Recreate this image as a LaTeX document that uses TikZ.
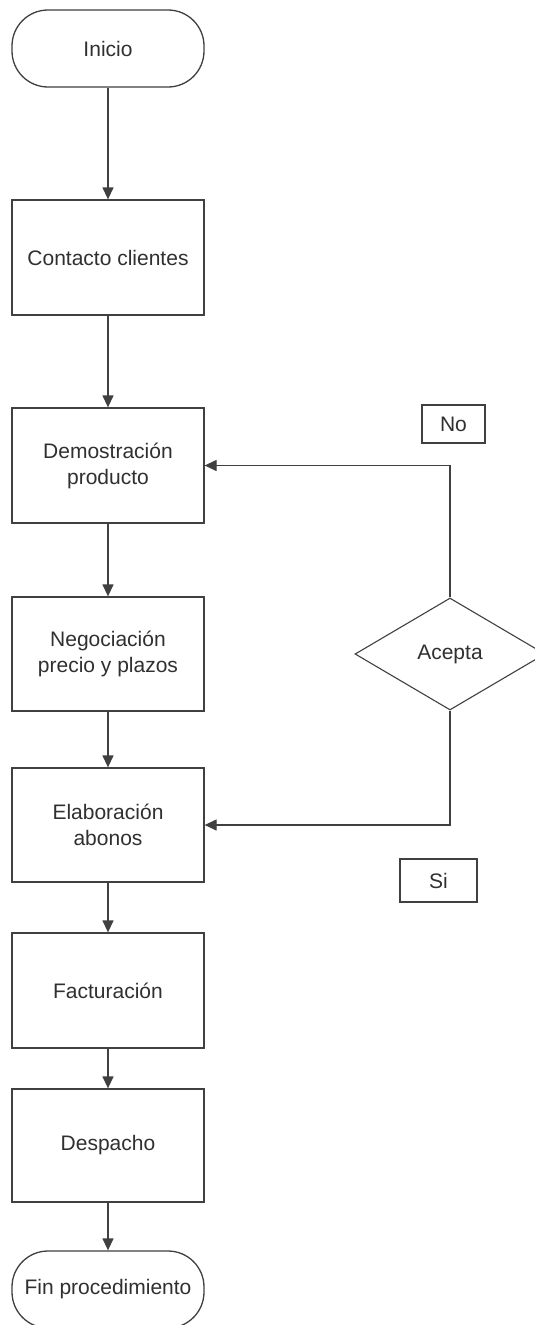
\documentclass[tikz,border=0pt]{standalone}
\usepackage{fontspec}
\setmainfont{Liberation Sans}
\usetikzlibrary{shapes.geometric,arrows.meta}

\definecolor{linea}{HTML}{404040}
\definecolor{texto}{HTML}{303030}

\begin{document}
\begin{tikzpicture}[x=1pt,y=-1pt]

    \clip (0,0) rectangle (535,1325);
    \fill[white] (0,0) rectangle (535,1325);

    \tikzset{paso/.style={draw=linea, line width=1.3pt, rectangle, minimum width=192pt, minimum height=115pt,
                          inner sep=0pt, align=center, text=texto, font=\fontsize{21}{26}\selectfont},
             terminal/.style={paso, minimum height=77pt, rounded corners=36pt},
             decision/.style={draw=linea, line width=1.1pt, diamond, minimum width=190pt, minimum height=112pt,
                              inner sep=0pt, text=texto, font=\fontsize{21}{26}\selectfont},
             etiqueta/.style={draw=linea, line width=1.1pt, rectangle, inner sep=0pt, text=texto,
                              font=\fontsize{21}{26}\selectfont},
             flecha/.style={draw=linea, line width=1.3pt, -{Triangle[length=12pt,width=11pt]}}}

    \node[terminal] (ini) at (108,48.5) {Inicio};
    \node[paso] (con) at (108,257.5) {Contacto clientes};
    \node[paso] (dem) at (108,465.5) {Demostración\\producto};
    \node[paso, minimum height=114pt] (neg) at (108,654) {Negociación\\precio y plazos};
    \node[paso, minimum height=114pt] (ela) at (108,825) {Elaboración\\abonos};
    \node[paso] (fac) at (108,990.5) {Facturación};
    \node[paso, minimum height=113pt] (des) at (108,1145.5) {Despacho};
    \node[terminal] (fin) at (108,1289.5) {Fin procedimiento};

    \node[decision] (ace) at (450,654) {Acepta};
    \node[etiqueta, minimum width=63pt, minimum height=38pt] (no) at (453.5,424) {No};
    \node[etiqueta, minimum width=77pt, minimum height=43pt] (si) at (438.5,880.5) {Si};

    \foreach \a/\b in {ini/con, con/dem, dem/neg, neg/ela, ela/fac, fac/des, des/fin} {
        \draw[flecha] (\a) -- (\b);
    }

    \draw[flecha] (ace.north) |- (dem.east);
    \draw[flecha] (ace.south) |- (ela.east);

\end{tikzpicture}
\end{document}
